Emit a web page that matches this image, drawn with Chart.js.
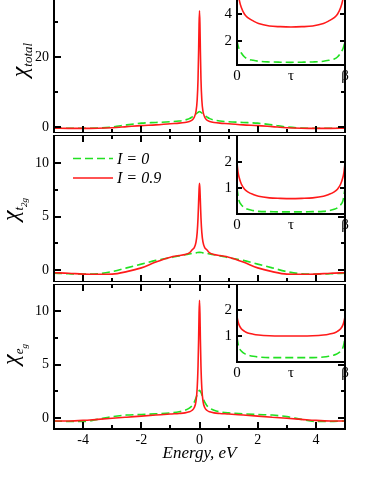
<!DOCTYPE html>
<html>
<head>
<meta charset="utf-8">
<script src="https://cdn.jsdelivr.net/npm/chart.js@4.4.1/dist/chart.umd.min.js"></script>
<style>
  html, body { margin: 0; padding: 0; background: #fff; overflow: hidden; }
  body { width: 374px; height: 484px; position: relative; }
  canvas { position: absolute; }
</style>
</head>
<body>
<canvas id="main1"></canvas>
<canvas id="main2"></canvas>
<canvas id="main3"></canvas>
<canvas id="ins1"></canvas>
<canvas id="ins2"></canvas>
<canvas id="ins3"></canvas>
<script>
// energy grid (eV), denser near the peak at 0
const energy = [-5, -4.5, -4, -3.5, -3, -2.5, -2, -1.5, -1, -0.7, -0.5, -0.35, -0.25, -0.18, -0.12, -0.08, -0.05, -0.03, -0.015,
  0, 0.015, 0.03, 0.05, 0.08, 0.12, 0.18, 0.25, 0.35, 0.5, 0.7, 1, 1.5, 2, 2.5, 3, 3.5, 4, 4.5, 5];

// chi_total
const totalI0 = [-0.3, -0.35, -0.35, -0.3, 0.0, 0.6, 1.1, 1.3, 1.5, 1.7, 2.0, 2.4, 2.9, 3.3, 3.7, 4.0, 4.2, 4.3, 4.35,
  4.4, 4.35, 4.3, 4.2, 4.0, 3.7, 3.3, 2.9, 2.4, 2.0, 1.7, 1.5, 1.3, 1.1, 0.6, 0.0, -0.3, -0.35, -0.35, -0.3];
const totalI09 = [-0.35, -0.4, -0.4, -0.35, -0.2, 0.1, 0.4, 0.6, 0.95, 1.1, 1.3, 1.6, 2.0, 2.8, 4.5, 7.7, 13.8, 21.8, 29.3,
  33.2, 29.3, 21.8, 13.8, 7.7, 4.5, 2.8, 2.0, 1.6, 1.3, 1.1, 0.95, 0.6, 0.4, 0.1, -0.2, -0.35, -0.4, -0.4, -0.35];

// chi_t2g
const t2gI0 = [-0.3, -0.35, -0.38, -0.35, -0.15, 0.2, 0.55, 0.9, 1.15, 1.32, 1.42, 1.5, 1.55, 1.58, 1.6, 1.63, 1.64, 1.65, 1.65,
  1.65, 1.65, 1.65, 1.64, 1.63, 1.6, 1.58, 1.55, 1.5, 1.42, 1.32, 1.15, 0.9, 0.55, 0.2, -0.15, -0.35, -0.38, -0.35, -0.3];
const t2gI09 = [-0.25, -0.3, -0.38, -0.4, -0.38, -0.15, 0.2, 0.75, 1.2, 1.35, 1.45, 1.6, 1.9, 2.1, 2.6, 3.5, 4.9, 6.4, 7.5,
  8.1, 7.5, 6.4, 4.9, 3.5, 2.6, 2.1, 1.9, 1.6, 1.45, 1.35, 1.2, 0.75, 0.2, -0.15, -0.38, -0.4, -0.38, -0.3, -0.25];

// chi_eg
const egI0 = [-0.25, -0.3, -0.3, -0.1, 0.15, 0.3, 0.35, 0.42, 0.5, 0.6, 0.75, 0.95, 1.2, 1.5, 1.9, 2.2, 2.4, 2.5, 2.58,
  2.62, 2.58, 2.5, 2.4, 2.2, 1.9, 1.5, 1.2, 0.95, 0.75, 0.6, 0.5, 0.42, 0.35, 0.3, 0.15, -0.1, -0.3, -0.3, -0.25];
const egI09 = [-0.25, -0.25, -0.2, -0.1, 0.0, 0.1, 0.2, 0.3, 0.4, 0.45, 0.5, 0.6, 0.75, 1.0, 1.6, 2.8, 4.9, 7.4, 9.8,
  11.0, 9.8, 7.4, 4.9, 2.8, 1.6, 1.0, 0.75, 0.6, 0.5, 0.45, 0.4, 0.3, 0.2, 0.1, 0.0, -0.1, -0.2, -0.25, -0.25];

// insets: imaginary time tau from 0 to beta
const tau = [0, 0.01, 0.02, 0.04, 0.07, 0.1, 0.15, 0.2, 0.3, 0.4, 0.5, 0.6, 0.7, 0.8, 0.85, 0.9, 0.93, 0.96, 0.98, 0.99, 1];
const insTotalI0 = [2.0, 1.65, 1.4, 1.1, 0.8, 0.65, 0.55, 0.48, 0.43, 0.41, 0.4, 0.41, 0.43, 0.48, 0.55, 0.65, 0.8, 1.1, 1.4, 1.65, 2.0];
const insTotalI09 = [6.6, 5.6, 5.1, 4.5, 4.0, 3.75, 3.5, 3.3, 3.12, 3.07, 3.05, 3.07, 3.12, 3.3, 3.5, 3.75, 4.0, 4.5, 5.1, 5.6, 6.6];
const insT2gI0 = [1.0, 0.7, 0.5, 0.35, 0.24, 0.18, 0.13, 0.1, 0.09, 0.08, 0.08, 0.08, 0.09, 0.1, 0.13, 0.18, 0.24, 0.35, 0.5, 0.7, 1.0];
const insT2gI09 = [1.95, 1.6, 1.4, 1.15, 0.95, 0.85, 0.75, 0.68, 0.62, 0.6, 0.59, 0.6, 0.62, 0.68, 0.75, 0.85, 0.95, 1.15, 1.4, 1.6, 1.95];
const insEgI0 = [0.95, 0.7, 0.55, 0.42, 0.32, 0.27, 0.22, 0.19, 0.17, 0.17, 0.17, 0.17, 0.17, 0.19, 0.22, 0.27, 0.32, 0.42, 0.55, 0.7, 0.95];
const insEgI09 = [1.75, 1.55, 1.42, 1.28, 1.18, 1.12, 1.07, 1.04, 1.01, 1.0, 1.0, 1.0, 1.01, 1.04, 1.07, 1.12, 1.18, 1.28, 1.42, 1.55, 1.75];

const seriesNames = ['I = 0', 'I = 0.9'];
const energyTicks = [-4, -2, 0, 2, 4];
const energyMinor = [-3, -1, 1, 3];
const tauTicks = [0, 0.5, 1];
const tauLabels = ['0', '\u03C4', '\u03B2'];

const GREEN = '#22e022';
const RED = '#ff1a1a';
const SERIF = '"Liberation Serif", "Times New Roman", serif';

Chart.defaults.font.family = SERIF;
Chart.defaults.font.size = 14;
Chart.defaults.color = '#000';

// box around the plot area with inward ticks on all sides
const framePlugin = {
  id: 'frame',
  beforeDatasetsDraw(chart, args, o) {
    if (!o.fill) return;
    const { ctx, chartArea: a } = chart;
    ctx.save();
    ctx.fillStyle = '#fff';
    ctx.fillRect(a.left, a.top, a.right - a.left, a.bottom - a.top);
    ctx.restore();
  },
  afterDatasetsDraw(chart, args, o) {
    const { ctx, chartArea: a, scales } = chart;
    ctx.save();
    ctx.strokeStyle = '#000';
    ctx.lineWidth = 2;
    ctx.strokeRect(a.left, a.top, a.right - a.left, a.bottom - a.top);
    ctx.beginPath();
    (o.xMajor || []).concat(o.xMinor || []).forEach((v, i) => {
      const len = i < (o.xMajor || []).length ? 7 : 4;
      const px = Math.round(scales.x.getPixelForValue(v));
      ctx.moveTo(px, a.bottom); ctx.lineTo(px, a.bottom - len);
      ctx.moveTo(px, a.top); ctx.lineTo(px, a.top + len);
    });
    const yMaj = o.yMajor || [];
    yMaj.concat(o.yMinor || []).forEach((v, i) => {
      const len = i < yMaj.length ? (o.yLen || 7) : 4;
      const py = Math.round(scales.y.getPixelForValue(v));
      ctx.moveTo(a.left, py); ctx.lineTo(a.left + len, py);
      ctx.moveTo(a.right, py); ctx.lineTo(a.right - len, py);
    });
    ctx.stroke();
    ctx.restore();
  }
};

// rotated chi label with nested subscripts
const chiPlugin = {
  id: 'chi',
  afterDraw(chart, args, o) {
    if (!o.sub) return;
    const { ctx, chartArea: a } = chart;
    const fonts = ['italic 24px ' + SERIF, 'italic 13px ' + SERIF, 'italic 9px ' + SERIF];
    const parts = ['\u03C7', o.sub, o.subsub || ''];
    const shifts = [0, 5, 9];
    ctx.save();
    ctx.translate(o.x, (a.top + a.bottom) / 2 + (o.dy || 0));
    ctx.rotate(-Math.PI / 2);
    ctx.fillStyle = '#000';
    ctx.textBaseline = 'alphabetic';
    const widths = parts.map((p, i) => { ctx.font = fonts[i]; return ctx.measureText(p).width; });
    let x = -(widths[0] + widths[1] + widths[2]) / 2;
    parts.forEach((p, i) => {
      ctx.font = fonts[i];
      ctx.fillText(p, x, shifts[i]);
      x += widths[i];
    });
    ctx.restore();
  }
};

// line-sample legend
const legendPlugin = {
  id: 'lineLegend',
  afterDraw(chart, args, o) {
    if (!o.show) return;
    const { ctx } = chart;
    const items = [
      { name: seriesNames[0], color: GREEN, dash: [8, 4] },
      { name: seriesNames[1], color: RED, dash: [] }
    ];
    ctx.save();
    items.forEach((it, i) => {
      const y = o.y + i * 19.5;
      ctx.strokeStyle = it.color;
      ctx.lineWidth = 1.6;
      ctx.setLineDash(it.dash);
      ctx.beginPath();
      ctx.moveTo(o.x, y); ctx.lineTo(o.x + 40, y);
      ctx.stroke();
      ctx.setLineDash([]);
      ctx.fillStyle = '#000';
      ctx.font = 'italic 16px ' + SERIF;
      ctx.textBaseline = 'middle';
      ctx.fillText(it.name, o.x + 44, y + 1);
    });
    ctx.restore();
  }
};

function place(id, left, top, w, h) {
  const c = document.getElementById(id);
  c.width = w; c.height = h;
  c.style.left = left + 'px'; c.style.top = top + 'px';
  c.style.width = w + 'px'; c.style.height = h + 'px';
  return c;
}

function lineSet(xs, ys, color, dashed) {
  return {
    data: xs.map((x, i) => ({ x: x, y: ys[i] })),
    borderColor: color,
    borderWidth: 1.6,
    borderDash: dashed ? [8, 4] : [],
    pointRadius: 0,
    fill: false,
    cubicInterpolationMode: 'monotone'
  };
}

const noGrid = { display: false, drawTicks: false };

function mainPanel(id, top, height, red, green, yr, yMajor, yMinor, showX, chi, legend) {
  const c = place(id, 0, top, 374, height);
  return new Chart(c, {
    type: 'line',
    data: { datasets: [lineSet(energy, red, RED, false), lineSet(energy, green, GREEN, true)] },
    plugins: [framePlugin, chiPlugin, legendPlugin],
    options: {
      responsive: false, animation: false, devicePixelRatio: 1,
      layout: { padding: { left: 0, right: 29, top: 0, bottom: 0 } },
      scales: {
        x: {
          type: 'linear', min: -5, max: 5,
          display: showX,
          grid: noGrid, border: { display: false },
          afterBuildTicks: s => { s.ticks = energyTicks.map(v => ({ value: v })); },
          ticks: { padding: 3, font: { size: 14 } },
          title: { display: showX, text: 'Energy, eV', font: { size: 17, style: 'italic' }, padding: { top: 0, bottom: 20 } },
          afterFit: s => { s.height = showX ? height - 145 : 0; s.paddingLeft = 0; s.paddingRight = 0; }
        },
        y: {
          type: 'linear', min: yr[0], max: yr[1],
          grid: noGrid, border: { display: false },
          afterBuildTicks: s => { s.ticks = yMajor.map(v => ({ value: v })); },
          ticks: { padding: 5, font: { size: 14 } },
          afterFit: s => { s.width = 54; s.paddingTop = 0; s.paddingBottom = 0; }
        }
      },
      plugins: {
        legend: { display: false }, tooltip: { enabled: false },
        frame: { xMajor: energyTicks, xMinor: energyMinor, yMajor: yMajor, yMinor: yMinor },
        chi: chi,
        lineLegend: legend || { show: false }
      }
    }
  });
}

function insetPanel(id, top, areaH, red, green, yr, yMajor) {
  const c = place(id, 210, top, 164, areaH + 25);
  return new Chart(c, {
    type: 'line',
    data: { datasets: [lineSet(tau, red, RED, false), lineSet(tau, green, GREEN, true)] },
    plugins: [framePlugin],
    options: {
      responsive: false, animation: false, devicePixelRatio: 1,
      layout: { padding: { left: 0, right: 29, top: 0, bottom: 0 } },
      scales: {
        x: {
          type: 'linear', min: 0, max: 1,
          grid: noGrid, border: { display: false },
          afterBuildTicks: s => { s.ticks = tauTicks.map(v => ({ value: v })); },
          ticks: { padding: 2, font: { size: 15 }, callback: (v) => tauLabels[tauTicks.indexOf(v)] },
          afterFit: s => { s.height = 25; s.paddingLeft = 0; s.paddingRight = 0; }
        },
        y: {
          type: 'linear', min: yr[0], max: yr[1],
          grid: noGrid, border: { display: false },
          afterBuildTicks: s => { s.ticks = yMajor.map(v => ({ value: v })); },
          ticks: { padding: 5, font: { size: 15 } },
          afterFit: s => { s.width = 27; s.paddingTop = 0; s.paddingBottom = 0; }
        }
      },
      plugins: {
        legend: { display: false }, tooltip: { enabled: false },
        frame: { fill: true, yMajor: yMajor, yLen: 5 }
      }
    }
  });
}

mainPanel('main1', -13, 146, totalI09, totalI0, [-1.71, 40], [0, 20], [10, 30], false,
  { x: 27, sub: 'total', dy: 0 });
mainPanel('main2', 135, 147, t2gI09, t2gI0, [-1.12, 12.62], [0, 5, 10], [2.5, 7.5], false,
  { x: 18, sub: 't', subsub: '2g', dy: 1 }, { show: true, x: 73, y: 23.5 });
mainPanel('main3', 284, 200, egI09, egI0, [-1.0, 12.52], [0, 5, 10], [2.5, 7.5], true,
  { x: 18, sub: 'e', subsub: 'g', dy: -2 });

insetPanel('ins1', -13, 78, insTotalI09, insTotalI0, [0.2, 6.04], [2, 4]);
insetPanel('ins2', 135, 79, insT2gI09, insT2gI0, [0, 3.03], [1, 2]);
insetPanel('ins3', 284, 78, insEgI09, insEgI0, [0, 3], [1, 2]);
</script>
</body>
</html>
